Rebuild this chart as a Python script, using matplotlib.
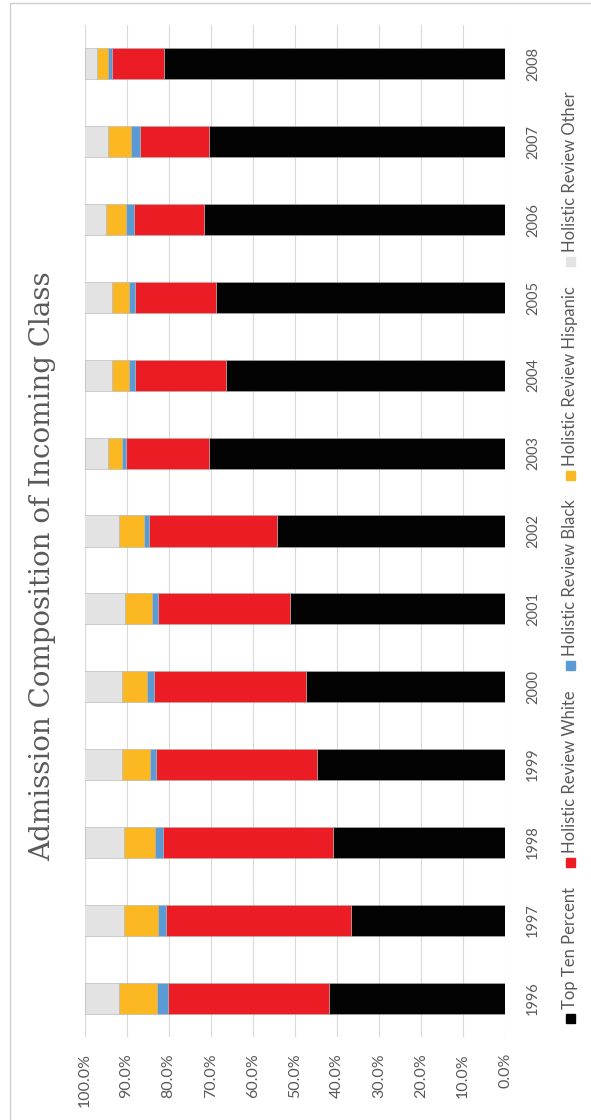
import matplotlib.pyplot as plt
import matplotlib.patches as mpatches
import numpy as np

years = ["1996", "1997", "1998", "1999", "2000", "2001", "2002",
         "2003", "2004", "2005", "2006", "2007", "2008"]

# shares in percent
top_ten = [41.8, 36.7, 41.0, 44.8, 47.3, 51.2, 54.2, 70.3, 66.3, 68.8, 71.5, 70.5, 81.0]
hr_white = [38.4, 43.9, 40.3, 38.1, 36.2, 31.4, 30.5, 19.8, 21.8, 19.2, 16.8, 16.4, 12.5]
hr_black = [2.6, 2.0, 2.0, 1.6, 1.6, 1.4, 1.2, 1.0, 1.2, 1.4, 1.9, 2.0, 0.9]
hr_hispanic = [8.9, 8.1, 7.3, 6.7, 5.9, 6.3, 5.9, 3.3, 4.1, 4.1, 4.6, 5.5, 2.6]
hr_other = [8.3, 9.4, 9.4, 8.8, 9.0, 9.7, 8.2, 5.6, 6.6, 6.5, 5.3, 5.6, 3.0]

series = ["Top Ten Percent", "Holistic Review White", "Holistic Review Black",
          "Holistic Review Hispanic", "Holistic Review Other"]
values = [top_ten, hr_white, hr_black, hr_hispanic, hr_other]
colors = ["#030303", "#ec1c24", "#5b9bd5", "#fbb823", "#e3e3e3"]

W, H = 591, 1120
fig = plt.figure(figsize=(W / 100, H / 100), dpi=100)
fig.patch.set_facecolor("white")

# outer border of the chart area
fig.patches.append(mpatches.Rectangle((10 / W, -0.01), 1.0, 1 - 3 / H + 0.01,
                                      transform=fig.transFigure, fill=False,
                                      edgecolor="#d0d0d0", lw=1.0))

ax = fig.add_axes([84.5 / W, 1 - 1037 / H, (505 - 84.5) / W, (1037 - 25) / H])

pos = np.arange(len(years))
left = np.zeros(len(years))
for name, vals, c in zip(series, values, colors):
    ax.barh(pos, vals, left=left, height=0.4, color=c,
            edgecolor="#b0b0b0", linewidth=0.4, zorder=3)
    left += np.array(vals)

ax.set_xlim(100, 0)
ax.set_ylim(-0.5, len(years) - 0.5)

ax.set_xticks(np.arange(0, 101, 10))
ax.set_xticklabels([f"{v:.1f}%" for v in np.arange(0, 101, 10)],
                   rotation=90, fontsize=11.5, color="#595959", family="Lato")
ax.tick_params(axis="x", length=0, pad=11.5)

ax.yaxis.tick_right()
ax.set_yticks(pos)
ax.set_yticklabels(years, rotation=90, fontsize=10.5, color="#595959",
                   family="Lato", va="center")
ax.tick_params(axis="y", length=0, pad=15)

ax.grid(axis="x", color="#d9d9d9", lw=0.8, zorder=0)
ax.set_axisbelow(True)
for s in ax.spines.values():
    s.set_visible(False)

fig.text(43 / W, 1 - 566 / H, "Admission Composition of Incoming Class",
         rotation=90, ha="center", va="center", fontsize=20,
         family="DejaVu Serif", color="#595959")

# legend, drawn by hand since it is rotated
renderer = fig.canvas.get_renderer()
leg_x = 570
sq = 9
gap_txt = 5
gap_item = 20
texts = []
for name in series:
    t = fig.text(leg_x / W, 0, name, rotation=90, ha="center", va="bottom",
                 fontsize=12, family="Lato", color="#595959")
    texts.append(t)
lengths = [t.get_window_extent(renderer).height for t in texts]
total = sum(sq + gap_txt + L for L in lengths) + gap_item * (len(series) - 1)
y = (H - 82 - (H - 1032)) / 2 + (H - 1032) - total / 2  # from bottom, pixels
y = (H - 1032) + ((1032 - 82) - total) / 2
for t, L, c in zip(texts, lengths, colors):
    fig.patches.append(mpatches.Rectangle(((leg_x - sq / 2) / W, y / H), sq / W, sq / H,
                                          transform=fig.transFigure, color=c))
    t.set_position((leg_x / W, (y + sq + gap_txt) / H))
    y += sq + gap_txt + L + gap_item

fig.savefig("out.png", dpi=100)
